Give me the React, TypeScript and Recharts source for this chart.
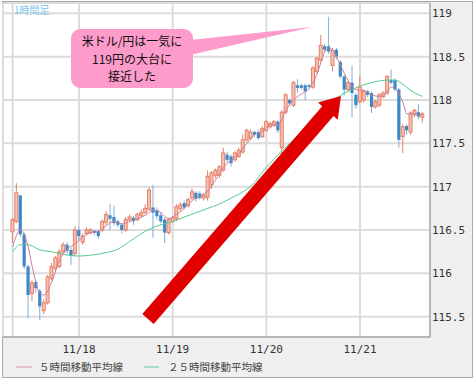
import React from 'react';
import { ComposedChart, Bar, Line, XAxis, YAxis, CartesianGrid } from 'recharts';

// hourly candles, index 0 = 11/17 07:00
const dayTicks = [0, 17, 41, 65, 89];
const dayLabels = ['', '11/18', '11/19', '11/20', '11/21'];
const priceTicks = [115.5, 116, 116.5, 117, 117.5, 118, 118.5, 119];

const opens = [
  116.48, 116.6, 116.9, 116.45, 116.08, 115.77, 115.9, 115.8, 115.57, 115.66,
  115.94, 116.06, 116.08, 116.25, 116.33, 116.27, 116.23, 116.5, 116.36, 116.46,
  116.47, 116.49, 116.49, 116.5, 116.59, 116.67, 116.65, 116.6, 116.56, 116.5,
  116.62, 116.64, 116.62, 116.67, 116.7, 116.74, 116.76, 116.73, 116.67, 116.62,
  116.47, 116.6, 116.63, 116.75, 116.81, 116.78, 116.87, 116.93, 116.92, 116.87,
  116.88, 117.02, 117.13, 117.13, 117.19, 117.37, 117.35, 117.31, 117.35, 117.4,
  117.54, 117.56, 117.63, 117.63, 117.58, 117.65, 117.69, 117.71, 117.75, 117.45,
  117.86, 118.0, 117.94, 118.17, 118.17, 118.17, 118.17, 118.15, 118.33, 118.46,
  118.62, 118.62, 118.4, 118.58, 118.44, 118.27, 118.12, 118.2, 118.06, 117.98,
  118.0, 118.1, 118.08, 117.92, 117.94, 118.04, 118.08, 118.23, 118.23, 118.12,
  117.58, 117.7, 117.63, 117.83, 117.86, 117.8,
];
const highs = [
  116.64, 117.04, 116.9, 116.47, 116.1, 115.92, 115.93, 115.82, 115.7, 115.98,
  116.12, 116.2, 116.28, 116.36, 116.36, 116.3, 116.54, 116.53, 116.46, 116.53,
  116.52, 116.5, 116.5, 116.62, 116.72, 116.8, 116.78, 116.62, 116.58, 116.65,
  116.68, 116.66, 116.7, 116.74, 116.8, 116.99, 117.02, 116.76, 116.7, 116.65,
  116.64, 116.66, 116.8, 116.82, 116.84, 116.87, 116.98, 116.95, 116.95, 116.92,
  117.19, 117.18, 117.21, 117.25, 117.45, 117.4, 117.37, 117.41, 117.45, 117.6,
  117.67, 117.66, 117.65, 117.66, 117.7, 117.77, 117.75, 117.77, 117.77, 117.88,
  118.08, 118.02, 118.22, 118.24, 118.19, 118.19, 118.19, 118.39, 118.5, 118.75,
  118.65, 118.96, 118.6, 118.6, 118.46, 118.29, 118.22, 118.4, 118.08, 118.28,
  118.12, 118.12, 118.1, 118.0, 118.08, 118.1, 118.29, 118.35, 118.25, 118.14,
  117.72, 117.72, 117.87, 117.9, 117.95, 117.86,
];
const lows = [
  116.35, 116.58, 116.42, 116.05, 115.48, 115.68, 115.78, 115.46, 115.53, 115.64,
  115.92, 116.02, 116.06, 116.22, 116.22, 116.1, 116.2, 116.38, 116.33, 116.44,
  116.45, 116.44, 116.4, 116.48, 116.56, 116.5, 116.55, 116.53, 116.46, 116.48,
  116.6, 116.56, 116.6, 116.64, 116.68, 116.72, 116.41, 116.62, 116.58, 116.35,
  116.45, 116.58, 116.6, 116.72, 116.74, 116.76, 116.85, 116.83, 116.85, 116.84,
  116.84, 116.98, 117.1, 117.1, 117.17, 117.28, 117.23, 117.29, 117.33, 117.38,
  117.52, 117.54, 117.57, 117.54, 117.56, 117.63, 117.67, 117.69, 117.62, 117.34,
  117.84, 117.93, 117.92, 118.08, 118.12, 118.0, 118.13, 118.13, 118.31, 118.44,
  118.55, 118.53, 118.33, 118.47, 118.25, 118.05, 118.1, 117.8, 117.9, 117.96,
  117.97, 118.03, 117.85, 117.9, 117.92, 118.02, 118.06, 118.18, 118.1, 117.45,
  117.39, 117.6, 117.6, 117.8, 117.78, 117.74,
];
const closes = [
  116.62, 116.93, 116.45, 116.08, 115.75, 115.89, 115.83, 115.62, 115.66, 115.96,
  116.08, 116.18, 116.25, 116.33, 116.26, 116.2, 116.5, 116.43, 116.43, 116.5,
  116.5, 116.47, 116.43, 116.6, 116.68, 116.63, 116.58, 116.56, 116.5, 116.62,
  116.65, 116.6, 116.68, 116.7, 116.75, 116.96, 116.7, 116.66, 116.6, 116.47,
  116.62, 116.64, 116.77, 116.79, 116.76, 116.85, 116.94, 116.86, 116.87, 116.9,
  117.12, 117.16, 117.19, 117.23, 117.39, 117.31, 117.27, 117.39, 117.42, 117.54,
  117.65, 117.63, 117.6, 117.56, 117.67, 117.75, 117.73, 117.75, 117.65, 117.86,
  118.06, 117.96, 118.2, 118.14, 118.14, 118.1, 118.15, 118.37, 118.48, 118.63,
  118.58, 118.56, 118.57, 118.5, 118.27, 118.12, 118.2, 118.08, 117.94, 118.15,
  118.1, 118.06, 117.92, 117.98, 118.06, 118.08, 118.27, 118.2, 118.12, 117.54,
  117.69, 117.65, 117.85, 117.88, 117.81, 117.84,
];

// moving averages: [candle index, value]
const ma5Points: [number, number][] = [
  [0, 116.31], [2, 116.5], [4, 116.3], [5, 116.08], [7, 115.77], [8, 115.75], [10, 115.9],
  [12, 116.15], [14, 116.28], [16, 116.34], [18, 116.42], [20, 116.47], [22, 116.48],
  [24, 116.55], [26, 116.6], [28, 116.57], [30, 116.6], [32, 116.63], [34, 116.67],
  [36, 116.73], [38, 116.7], [40, 116.63], [42, 116.68], [44, 116.75], [46, 116.84],
  [48, 116.89], [50, 116.95], [52, 117.08], [54, 117.22], [56, 117.31], [58, 117.38],
  [60, 117.5], [62, 117.6], [64, 117.64], [66, 117.71], [68, 117.71], [70, 117.88],
  [72, 118.0], [74, 118.07], [76, 118.13], [78, 118.3], [80, 118.56], [81, 118.6],
  [82, 118.57], [84, 118.4], [86, 118.22], [88, 118.12], [90, 118.11], [92, 118.06],
  [94, 118.04], [96, 118.1], [97, 118.15], [98, 118.13], [100, 117.97], [101, 117.84],
  [103, 117.84], [105, 117.83],
];
const ma25Points: [number, number][] = [
  [0, 116.25], [2, 116.33], [4, 116.33], [7, 116.27], [10, 116.25], [13, 116.22],
  [17, 116.2], [20, 116.21], [24, 116.24], [27, 116.28], [30, 116.37], [33, 116.46],
  [36, 116.53], [38, 116.56], [41, 116.6], [44, 116.65], [47, 116.7], [50, 116.75],
  [53, 116.8], [56, 116.87], [59, 116.94], [62, 117.05], [64, 117.17], [66, 117.27],
  [68, 117.37], [71, 117.5], [74, 117.62], [76, 117.71], [79, 117.84], [81, 117.93],
  [83, 118.02], [85, 118.08], [87, 118.12], [89, 118.16], [91, 118.19], [94, 118.22],
  [96, 118.23], [98, 118.23], [100, 118.18], [102, 118.11], [104, 118.06], [105, 118.04],
];

const ma5Map = new Map(ma5Points);
const ma25Map = new Map(ma25Points);

const data = opens.map((o, i) => ({
  i,
  open: o,
  high: highs[i],
  low: lows[i],
  close: closes[i],
  range: [lows[i], highs[i]],
  ma5: ma5Map.has(i) ? ma5Map.get(i) : null,
  ma25: ma25Map.has(i) ? ma25Map.get(i) : null,
}));

const UP_LINE = '#e57f66';
const UP_FILL = '#f7c2b3';
const DOWN_FILL = '#3f87c6';
const DOWN_WICK = '#7db0dc';

function Candle(props: any) {
  const { x, y, width, height, payload } = props;
  if (x == null || y == null) return null;
  const { open, close, high, low } = payload;
  const top = Math.min(y, y + height);
  const h = Math.abs(height);
  const span = high - low || 1;
  const toY = (v: number) => top + ((high - v) / span) * h;
  const cx = x + width / 2;
  const up = close >= open;
  const yo = toY(open);
  const yc = toY(close);
  const bTop = Math.min(yo, yc);
  const bH = Math.max(Math.abs(yo - yc), 1);
  return (
    <g>
      <line x1={cx} x2={cx} y1={top} y2={top + h} stroke={up ? UP_LINE : DOWN_WICK} strokeWidth={1} />
      {up ? (
        <rect x={cx - 1.5} y={bTop} width={3} height={bH} fill={UP_FILL} stroke={UP_LINE} strokeWidth={1} />
      ) : (
        <rect x={cx - 1.6} y={bTop} width={3.2} height={bH} fill={DOWN_FILL} />
      )}
    </g>
  );
}

const mono = '"DejaVu Sans Mono", monospace';
const jp = '"Noto Sans CJK JP", sans-serif';

// arrow annotation geometry
const tail = [148, 319];
const tip = [341, 96];
function arrowPoints() {
  const dx = tip[0] - tail[0];
  const dy = tip[1] - tail[1];
  const len = Math.sqrt(dx * dx + dy * dy);
  const ux = dx / len, uy = dy / len;
  const nx = -uy, ny = ux;
  const sw = 7.5, hw = 13, hl = 20;
  const bx = tip[0] - ux * hl, by = tip[1] - uy * hl;
  const pts = [
    [tail[0] - nx * sw, tail[1] - ny * sw],
    [bx - nx * sw, by - ny * sw],
    [bx - nx * hw, by - ny * hw],
    [tip[0], tip[1]],
    [bx + nx * hw, by + ny * hw],
    [bx + nx * sw, by + ny * sw],
    [tail[0] + nx * sw, tail[1] + ny * sw],
  ];
  return pts.map((p) => p.join(',')).join(' ');
}

export default function App() {
  return (
    <div style={{ position: 'absolute', left: 0, top: 0, width: 474, height: 381, background: '#fff', overflow: 'hidden' }}>
      <div
        style={{
          position: 'absolute', left: 2, top: 1, width: 471, height: 377,
          boxSizing: 'border-box', border: '1px solid #a9a9a9', background: '#efefef',
        }}
      />
      <div style={{ position: 'absolute', left: 0, top: 0 }}>
        <ComposedChart width={474} height={381} data={data} margin={{ top: 3, right: 0, bottom: 24, left: 3 }}>
          <CartesianGrid stroke="#dcdcdc" strokeWidth={2} fill="#ffffff" />
          <XAxis
            dataKey="i"
            type="number"
            domain={[-2.472, 106.93]}
            allowDataOverflow
            ticks={dayTicks}
            interval={0}
            tickFormatter={(v: number) => dayLabels[dayTicks.indexOf(v)] ?? ''}
            height={20}
            tickSize={0}
            tickMargin={8}
            axisLine={{ stroke: '#909090' }}
            tick={{ fill: '#333', fontSize: 11, fontFamily: mono }}
          />
          <YAxis
            orientation="right"
            type="number"
            domain={[115.266, 119.119]}
            allowDataOverflow
            ticks={priceTicks}
            interval={0}
            width={44}
            tickSize={0}
            tickMargin={2}
            axisLine={{ stroke: '#909090' }}
            tick={{ fill: '#333', fontSize: 11, fontFamily: mono, textAnchor: 'start' }}
            tickFormatter={(v: number) => (Number.isInteger(v) ? String(v) : v.toFixed(1))}
          />
          <Bar dataKey="range" barSize={4} shape={Candle} isAnimationActive={false} />
          <Line type="monotone" dataKey="ma25" stroke="#55c98f" strokeWidth={1} dot={false} connectNulls isAnimationActive={false} />
          <Line type="monotone" dataKey="ma5" stroke="#c9809f" strokeWidth={1} dot={false} connectNulls isAnimationActive={false} />
        </ComposedChart>
      </div>
      <svg width={474} height={381} style={{ position: 'absolute', left: 0, top: 0, pointerEvents: 'none' }}>
        <text x={14} y={14} fontSize={10} fill="#7cc4ea" fontFamily={jp}>1時間足</text>
        <polygon points="190,40 312,27 190,55" fill="#fd9bcb" />
        <rect x={71} y={29} width={122} height={59} rx={9} fill="#fd9bcb" />
        <text x={132} y={46} fontSize={12} fill="#111" fontFamily={jp} textAnchor="middle">米ドル/円は一気に</text>
        <text x={132} y={63.5} fontSize={12} fill="#111" fontFamily={jp} textAnchor="middle">119円の大台に</text>
        <text x={132} y={81} fontSize={12} fill="#111" fontFamily={jp} textAnchor="middle">接近した</text>
        <polygon points={arrowPoints()} fill="#e00000" />
        <line x1={16} x2={32} y1={367} y2={367} stroke="#d891ac" strokeWidth={1} />
        <text x={39} y={371} fontSize={10.5} fill="#444" fontFamily={jp}>５時間移動平均線</text>
        <line x1={144} x2={159} y1={367} y2={367} stroke="#5fd09a" strokeWidth={1} />
        <text x={168} y={371} fontSize={10.5} fill="#444" fontFamily={jp}>２５時間移動平均線</text>
      </svg>
    </div>
  );
}
